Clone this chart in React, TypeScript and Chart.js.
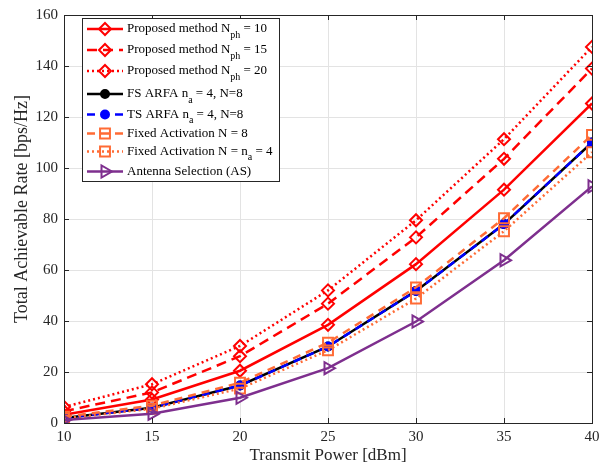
import React, { useEffect, useRef } from 'react';
import { Chart, registerables } from 'chart.js';

Chart.register(...registerables);

const powers = [10, 15, 20, 25, 30, 35, 40];
const prop10 = [3.2, 9.2, 20.5, 38.5, 62.3, 91.5, 125.3];
const prop15 = [4.6, 12.0, 26.2, 46.8, 72.8, 103.6, 139.0];
const prop20 = [6.3, 15.2, 30.2, 52.0, 79.5, 111.3, 147.5];
const fsArfa = [2.0, 6.0, 14.7, 30.0, 51.8, 78.0, 110.0];
const tsArfa = [2.0, 6.0, 14.7, 30.0, 51.8, 78.0, 110.0];
const fixed8 = [2.5, 6.8, 15.8, 31.5, 53.2, 80.3, 113.0];
const fixed4 = [1.8, 5.6, 13.5, 28.5, 48.8, 75.2, 106.2];
const antSel = [1.2, 3.6, 9.9, 21.5, 39.8, 63.8, 92.8];

// legend text: [main, subscript, suffix]
const legendTexts: [string, string, string][] = [
  ['Proposed method N', 'ph', ' = 10'],
  ['Proposed method N', 'ph', ' = 15'],
  ['Proposed method N', 'ph', ' = 20'],
  ['FS ARFA n', 'a', ' = 4, N=8'],
  ['TS ARFA n', 'a', ' = 4, N=8'],
  ['Fixed Activation N = 8', '', ''],
  ['Fixed Activation N = n', 'a', ' = 4'],
  ['Antenna Selection (AS)', '', ''],
];

const xTitle = 'Transmit Power [dBm]';
const yTitle = 'Total Achievable Rate [bps/Hz]';

const RED = '#FF0000';
const ORANGE = '#FF6B35';
const PURPLE = '#7E2F8E';
const BLUE = '#0000FF';
const BLACK = '#000000';
const SERIF = '"Liberation Serif", "Times New Roman", serif';
const TXT = '#262626';

type Style = {
  color: string;
  dash: number[];
  shape: string;
  radius: number;
  rotation: number;
  filled: boolean;
};

const styles: Style[] = [
  { color: RED, dash: [], shape: 'rectRot', radius: 6, rotation: 0, filled: false },
  { color: RED, dash: [10, 6], shape: 'rectRot', radius: 6, rotation: 0, filled: false },
  { color: RED, dash: [2, 3], shape: 'rectRot', radius: 6, rotation: 0, filled: false },
  { color: BLACK, dash: [], shape: 'circle', radius: 4, rotation: 0, filled: true },
  { color: BLUE, dash: [8, 6], shape: 'circle', radius: 4, rotation: 0, filled: true },
  { color: ORANGE, dash: [8, 6], shape: 'rect', radius: 7, rotation: 0, filled: false },
  { color: ORANGE, dash: [2, 3], shape: 'rect', radius: 7, rotation: 0, filled: false },
  { color: PURPLE, dash: [], shape: 'triangle', radius: 7, rotation: 90, filled: false },
];

const seriesList = [prop10, prop15, prop20, fsArfa, tsArfa, fixed8, fixed4, antSel];

function drawMarker(ctx: CanvasRenderingContext2D, s: Style, x: number, y: number) {
  ctx.save();
  ctx.setLineDash([]);
  ctx.lineWidth = 2;
  ctx.strokeStyle = s.color;
  ctx.fillStyle = s.color;
  ctx.beginPath();
  const r = s.radius;
  if (s.shape === 'circle') {
    ctx.arc(x, y, r, 0, Math.PI * 2);
  } else if (s.shape === 'rectRot') {
    ctx.moveTo(x, y - r);
    ctx.lineTo(x + r, y);
    ctx.lineTo(x, y + r);
    ctx.lineTo(x - r, y);
    ctx.closePath();
  } else if (s.shape === 'rect') {
    const h = r * Math.SQRT1_2;
    ctx.rect(x - h, y - h, 2 * h, 2 * h);
  } else if (s.shape === 'triangle') {
    ctx.moveTo(x + r, y);
    ctx.lineTo(x - r / 2, y - (Math.sqrt(3) / 2) * r);
    ctx.lineTo(x - r / 2, y + (Math.sqrt(3) / 2) * r);
    ctx.closePath();
  }
  if (s.filled) ctx.fill();
  ctx.stroke();
  ctx.restore();
}

const legendRowsY = [29, 50, 71, 94, 114.5, 133.5, 151.5, 171.5];

const framePlugin = {
  id: 'frameAndLegend',
  afterDraw(chart: any) {
    const ctx: CanvasRenderingContext2D = chart.ctx;
    const { left, right, top, bottom } = chart.chartArea;
    const xs = chart.scales.x;
    const ys = chart.scales.y;
    ctx.save();
    // box
    ctx.strokeStyle = TXT;
    ctx.lineWidth = 1;
    ctx.setLineDash([]);
    ctx.strokeRect(Math.round(left) + 0.5, Math.round(top) + 0.5, Math.round(right - left), Math.round(bottom - top));
    // inward ticks
    const tl = 5;
    ctx.beginPath();
    xs.ticks.forEach((t: any) => {
      const px = Math.round(xs.getPixelForValue(t.value)) + 0.5;
      ctx.moveTo(px, bottom);
      ctx.lineTo(px, bottom - tl);
      ctx.moveTo(px, top);
      ctx.lineTo(px, top + tl);
    });
    ys.ticks.forEach((t: any) => {
      const py = Math.round(ys.getPixelForValue(t.value)) + 0.5;
      ctx.moveTo(left, py);
      ctx.lineTo(left + tl, py);
      ctx.moveTo(right, py);
      ctx.lineTo(right - tl, py);
    });
    ctx.stroke();

    // axis titles
    ctx.fillStyle = TXT;
    ctx.textAlign = 'center';
    ctx.textBaseline = 'middle';
    ctx.font = `17px ${SERIF}`;
    ctx.fillText(xTitle, (left + right) / 2, 456);
    ctx.save();
    ctx.translate(22, 209);
    ctx.rotate(-Math.PI / 2);
    ctx.font = `18px ${SERIF}`;
    ctx.fillText(yTitle, 0, 0);
    ctx.restore();

    // legend
    const lx0 = 82, ly0 = 18, lx1 = 279, ly1 = 181;
    ctx.fillStyle = '#FFFFFF';
    ctx.fillRect(lx0, ly0, lx1 - lx0, ly1 - ly0);
    ctx.strokeStyle = '#262626';
    ctx.lineWidth = 1;
    ctx.strokeRect(lx0 + 0.5, ly0 + 0.5, lx1 - lx0, ly1 - ly0);

    legendTexts.forEach((lt, i) => {
      const s = styles[i];
      const y = legendRowsY[i];
      ctx.save();
      ctx.strokeStyle = s.color;
      ctx.lineWidth = 2.5;
      ctx.setLineDash(s.dash);
      ctx.beginPath();
      ctx.moveTo(87, y);
      ctx.lineTo(123, y);
      ctx.stroke();
      ctx.restore();
      drawMarker(ctx, s, 105, y);

      ctx.fillStyle = '#000000';
      ctx.textBaseline = 'middle';
      ctx.textAlign = 'left';
      ctx.font = `13px ${SERIF}`;
      let x = 127;
      ctx.fillText(lt[0], x, y);
      x += ctx.measureText(lt[0]).width;
      if (lt[1]) {
        ctx.font = `10px ${SERIF}`;
        ctx.fillText(lt[1], x, y + 6);
        x += ctx.measureText(lt[1]).width;
      }
      if (lt[2]) {
        ctx.font = `13px ${SERIF}`;
        ctx.fillText(lt[2], x, y);
      }
    });
    ctx.restore();
  },
};

export default function App() {
  const ref = useRef<HTMLCanvasElement | null>(null);

  useEffect(() => {
    if (!ref.current) return;
    const datasets = seriesList.map((vals, i) => {
      const s = styles[i];
      return {
        label: legendTexts[i].join(''),
        data: powers.map((p, k) => ({ x: p, y: vals[k] })),
        borderColor: s.color,
        backgroundColor: s.color,
        borderWidth: 2.5,
        borderDash: s.dash,
        pointStyle: s.shape,
        pointRadius: s.radius,
        pointRotation: s.rotation,
        pointBorderWidth: 2,
        pointBorderColor: s.color,
        pointBackgroundColor: s.filled ? s.color : 'rgba(0,0,0,0)',
        tension: 0,
        fill: false,
        order: seriesList.length - i,
      };
    });

    const chart = new Chart(ref.current, {
      type: 'line',
      data: { datasets },
      options: {
        animation: false,
        responsive: false,
        events: [],
        layout: { padding: { left: 0, right: 18, top: 9, bottom: 0 } },
        plugins: {
          legend: { display: false },
          tooltip: { enabled: false },
        },
        scales: {
          x: {
            type: 'linear',
            min: 10,
            max: 40,
            ticks: { stepSize: 5, color: TXT, font: { family: SERIF, size: 15 }, padding: 5, maxRotation: 0 },
            grid: { color: '#E3E3E3', lineWidth: 1, drawTicks: false },
            border: { display: false },
            title: { display: false },
            afterFit: (s: any) => { s.height = 44; },
          },
          y: {
            type: 'linear',
            min: 0,
            max: 160,
            ticks: { stepSize: 20, color: TXT, font: { family: SERIF, size: 15 }, padding: 6 },
            grid: { color: '#E3E3E3', lineWidth: 1, drawTicks: false },
            border: { display: false },
            title: { display: false },
            afterFit: (s: any) => { s.width = 64; },
          },
        },
      } as any,
      plugins: [framePlugin],
    });
    return () => chart.destroy();
  }, []);

  return (
    <div style={{ position: 'absolute', left: 0, top: 0, width: 610, height: 467, background: '#FFFFFF' }}>
      <canvas ref={ref} width={610} height={467} />
    </div>
  );
}
